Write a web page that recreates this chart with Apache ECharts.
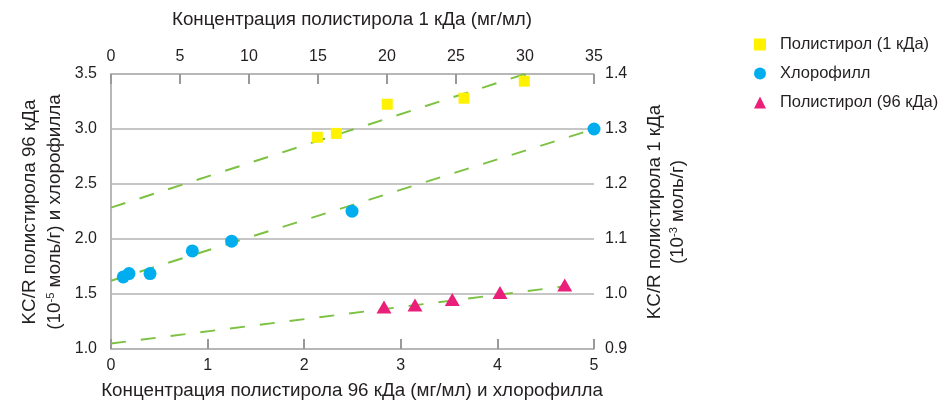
<!DOCTYPE html>
<html>
<head>
<meta charset="utf-8">
<script src="https://cdn.jsdelivr.net/npm/echarts@6/dist/echarts.min.js"></script>
<style>html,body{margin:0;padding:0;background:#fff;}#c{width:945px;height:402px;}</style>
</head>
<body>
<div id="c"></div>
<script>
// Polystyrene 1 kDa: top axis (mg/ml), right axis (10^-3 mol/g)
var ps1 = [[14.95, 1.285], [16.33, 1.292], [20.02, 1.345], [25.58, 1.356], [29.95, 1.387]];
// Chlorophyll: bottom axis, left axis
var chl = [[0.127, 1.655], [0.186, 1.686], [0.404, 1.686], [0.842, 1.892], [1.249, 1.98], [2.495, 2.253], [5.0, 3.0]];
// Polystyrene 96 kDa: bottom axis, left axis
var ps96 = [[2.826, 1.382], [3.147, 1.40], [3.533, 1.449], [4.027, 1.513], [4.697, 1.582]];
// Trend line endpoints
var fitPs1 = [[0, 1.157], [30, 1.4]];
var fitChl = [[0, 1.62], [5, 3.0]];
var fitPs96 = [[0, 1.05], [4.7, 1.57]];
var names = ['Полистирол (1 кДа)', 'Хлорофилл', 'Полистирол (96 кДа)'];

var FONT = "'Liberation Sans', Arial, sans-serif";
var TXT = '#231f20';
var GRAY = '#b3b3b3';
var GREEN = '#7cc142';
var TF = '18.8px ' + FONT;

var chart = echarts.init(document.getElementById('c'), null, {renderer: 'canvas'});
var fitStyle = {color: GREEN, width: 2, type: [15, 15]};
var supRich = {sup: {fontSize: 11, fontFamily: FONT, verticalAlign: 'top', lineHeight: 20, fill: TXT}};
chart.setOption({
  animation: false,
  textStyle: {fontFamily: FONT, color: TXT},
  grid: {left: 111, right: 351, top: 74, bottom: 53},
  legend: {
    orient: 'vertical', left: 749, top: 31, itemWidth: 12, itemHeight: 12, itemGap: 12,
    data: names,
    textStyle: {fontFamily: FONT, fontSize: 16.5, color: TXT, padding: [0, 0, 0, 9]}
  },
  xAxis: [
    {type: 'value', position: 'bottom', min: 0, max: 5, interval: 1,
     axisLine: {show: true, lineStyle: {color: GRAY, width: 1.5}},
     axisTick: {show: true, inside: true, length: 10, lineStyle: {color: '#999', width: 2}},
     axisLabel: {fontSize: 16, color: TXT, margin: 9, fontFamily: FONT},
     splitLine: {show: false}},
    {type: 'value', position: 'top', min: 0, max: 35, interval: 5,
     axisLine: {show: true, lineStyle: {color: GRAY, width: 1.5}},
     axisTick: {show: true, inside: true, length: 10, lineStyle: {color: '#999', width: 2}},
     axisLabel: {fontSize: 16, color: TXT, margin: 9, fontFamily: FONT},
     splitLine: {show: false}}
  ],
  yAxis: [
    {type: 'value', position: 'left', min: 1.0, max: 3.5, interval: 0.5,
     axisLine: {show: true, lineStyle: {color: GRAY, width: 1.5}},
     axisTick: {show: false},
     axisLabel: {fontSize: 16, color: TXT, margin: 14, fontFamily: FONT, formatter: function (v) { return v.toFixed(1); }},
     splitLine: {show: true, lineStyle: {color: GRAY, width: 1.5}}},
    {type: 'value', position: 'right', min: 0.9, max: 1.4, interval: 0.1,
     axisLine: {show: true, lineStyle: {color: GRAY, width: 1.5}},
     axisTick: {show: false},
     axisLabel: {fontSize: 16, color: TXT, margin: 11, fontFamily: FONT, formatter: function (v) { return v.toFixed(1); }},
     splitLine: {show: false}}
  ],
  series: [
    {type: 'line', xAxisIndex: 1, yAxisIndex: 1, data: fitPs1, symbol: 'none', lineStyle: fitStyle, z: 1, silent: true},
    {type: 'line', xAxisIndex: 0, yAxisIndex: 0, data: fitChl, symbol: 'none', lineStyle: fitStyle, z: 1, silent: true},
    {type: 'line', xAxisIndex: 0, yAxisIndex: 0, data: fitPs96, symbol: 'none', lineStyle: fitStyle, z: 1, silent: true},
    {name: names[0], type: 'scatter', xAxisIndex: 1, yAxisIndex: 1, data: ps1, symbol: 'rect', symbolSize: 11,
     itemStyle: {color: '#fff200', opacity: 1}, z: 3},
    {name: names[1], type: 'scatter', xAxisIndex: 0, yAxisIndex: 0, data: chl, symbol: 'circle', symbolSize: 13,
     itemStyle: {color: '#00aeef', opacity: 1}, z: 3},
    {name: names[2], type: 'scatter', xAxisIndex: 0, yAxisIndex: 0, data: ps96, symbol: 'triangle', symbolSize: [15, 13],
     itemStyle: {color: '#ea1f7a', opacity: 1}, z: 3}
  ],
  graphic: [
    {type: 'text', x: 352, y: 20, style: {text: 'Концентрация полистирола 1 кДа (мг/мл)', font: TF, fill: TXT, align: 'center', verticalAlign: 'middle'}},
    {type: 'text', x: 352, y: 391, style: {text: 'Концентрация полистирола 96 кДа (мг/мл) и хлорофилла', font: TF, fill: TXT, align: 'center', verticalAlign: 'middle'}},
    {type: 'text', x: 30, y: 212, rotation: Math.PI / 2,
     style: {text: 'KC/R полистирола 96 кДа', font: TF, fill: TXT, align: 'center', verticalAlign: 'middle'}},
    {type: 'text', x: 55, y: 212, rotation: Math.PI / 2,
     style: {text: '(10{sup|-5} моль/г) и хлорофилла', fill: TXT, align: 'center', verticalAlign: 'middle', font: TF, rich: supRich}},
    {type: 'text', x: 655, y: 212, rotation: Math.PI / 2,
     style: {text: 'KC/R полистирола 1 кДа', font: TF, fill: TXT, align: 'center', verticalAlign: 'middle'}},
    {type: 'text', x: 678, y: 212, rotation: Math.PI / 2,
     style: {text: '(10{sup|-3} моль/г)', fill: TXT, align: 'center', verticalAlign: 'middle', font: TF, rich: supRich}}
  ]
});
</script>
</body>
</html>
